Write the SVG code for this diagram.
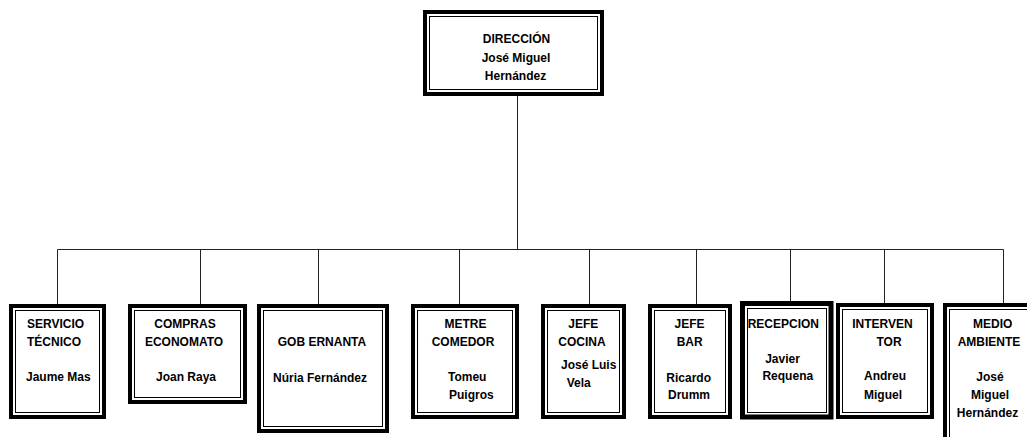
<svg xmlns="http://www.w3.org/2000/svg" width="1027" height="437" viewBox="0 0 1027 437">
<style>
.o{fill:#fff;stroke:#000;stroke-width:4}
.i{fill:none;stroke:#000;stroke-width:1}
.c{fill:none;stroke:#222;stroke-width:1}
text{font-family:"Liberation Sans",Arial,sans-serif;font-weight:bold;font-size:12px;fill:#000}
.m{text-anchor:middle}
</style>
<rect width="1027" height="437" fill="#fff"/>
<g id="connectors">
<path class="c" d="M517.5 96V249.5M57.5 249.5H1003.5M57.5 249.5V304M200.5 249.5V304M318.5 249.5V304M459.5 249.5V304M589.5 249.5V304M696.5 249.5V304M790.5 249.5V301M884.5 249.5V303M1003.5 249.5V303"/>
</g>
<g id="direccion">
<rect class="o" x="425" y="12" width="177" height="82"/>
<rect class="i" x="429.5" y="16.5" width="168" height="73"/>
<text class="m" x="516.5" y="43">DIRECCIÓN</text>
<text class="m" x="516" y="62">José Miguel</text>
<text class="m" x="515.5" y="80">Hernández</text>
</g>
<g id="servicio-tecnico">
<rect class="o" x="11" y="306" width="93" height="111"/>
<rect class="i" x="15.5" y="310.5" width="84" height="102"/>
<text x="27" y="328">SERVICIO</text>
<text x="27" y="346">TÉCNICO</text>
<text x="26" y="381">Jaume Mas</text>
</g>
<g id="compras">
<rect class="o" x="130" y="306" width="115" height="96"/>
<rect class="i" x="134.5" y="310.5" width="106" height="87"/>
<text class="m" x="185" y="328">COMPRAS</text>
<text class="m" x="184" y="346">ECONOMATO</text>
<text class="m" x="186" y="381">Joan Raya</text>
</g>
<g id="gobernanta">
<rect class="o" x="259" y="306" width="128" height="125"/>
<rect class="i" x="263.5" y="310.5" width="119" height="116"/>
<text class="m" x="322" y="346">GOB ERNANTA</text>
<text class="m" x="320" y="382">Núria Fernández</text>
</g>
<g id="metre">
<rect class="o" x="413" y="306" width="104" height="111"/>
<rect class="i" x="417.5" y="310.5" width="95" height="102"/>
<text class="m" x="465.5" y="328">METRE</text>
<text class="m" x="463" y="346">COMEDOR</text>
<text x="448" y="381">Tomeu</text>
<text x="449" y="399">Puigros</text>
</g>
<g id="jefe-cocina">
<rect class="o" x="543" y="306" width="81" height="111"/>
<rect class="i" x="547.5" y="310.5" width="72" height="102"/>
<text class="m" x="583.3" y="328">JEFE</text>
<text class="m" x="582" y="346">COCINA</text>
<text x="561" y="369">José Luis</text>
<text x="566.7" y="387">Vela</text>
</g>
<g id="jefe-bar">
<rect class="o" x="650" y="306" width="80" height="111"/>
<rect class="i" x="654.5" y="310.5" width="71" height="102"/>
<text class="m" x="689.5" y="328">JEFE</text>
<text class="m" x="689.7" y="346">BAR</text>
<text class="m" x="688.7" y="382">Ricardo</text>
<text class="m" x="689" y="399">Drumm</text>
</g>
<g id="recepcion">
<rect class="o" x="742.5" y="303.5" width="88.5" height="113.5" style="stroke-width:5"/>
<rect class="i" x="747.5" y="308.5" width="79" height="104"/>
<text class="m" x="783.3" y="327.5">RECEPCION</text>
<text class="m" x="782.5" y="363">Javier</text>
<text class="m" x="787.8" y="380">Requena</text>
</g>
<g id="interventor">
<rect class="o" x="838" y="305" width="94" height="112"/>
<rect class="i" x="842.5" y="309.5" width="85" height="103"/>
<text class="m" x="882.5" y="328">INTERVEN</text>
<text class="m" x="889" y="346">TOR</text>
<text class="m" x="885" y="380">Andreu</text>
<text x="864" y="399">Miguel</text>
</g>
<g id="medio-ambiente">
<rect class="o" x="945" y="305" width="100" height="150"/>
<rect class="i" x="949.5" y="309.5" width="91" height="150"/>
<text class="m" x="992.7" y="328">MEDIO</text>
<text class="m" x="989" y="346">AMBIENTE</text>
<text class="m" x="990" y="381">José</text>
<text class="m" x="990" y="399">Miguel</text>
<text class="m" x="987.5" y="417">Hernández</text>
</g>
</svg>
